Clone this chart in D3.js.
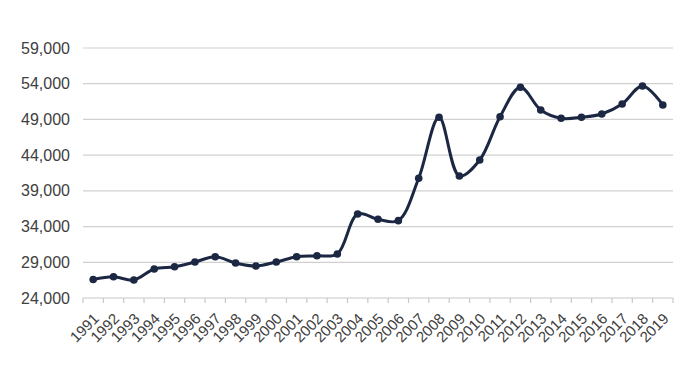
<!DOCTYPE html>
<html>
<head>
<meta charset="utf-8">
<script src="https://cdn.jsdelivr.net/npm/d3@7"></script>
<style>
  body { margin: 0; background: #fff; }
  text { font-family: "Liberation Sans", Arial, sans-serif; fill: #404040; }
</style>
</head>
<body>
<svg class="chart"></svg>
<script>
// Total dimensions
var w = 700,
    h = 385;

// Data
var years = ["1991", "1992", "1993", "1994", "1995", "1996", "1997", "1998", "1999", "2000",
             "2001", "2002", "2003", "2004", "2005", "2006", "2007", "2008", "2009", "2010",
             "2011", "2012", "2013", "2014", "2015", "2016", "2017", "2018", "2019"];
var values = [26600, 26980, 26520, 28060, 28380, 29040, 29780, 28900, 28480, 29040,
              29780, 29920, 30160, 35760, 35020, 34830, 40760, 49300, 41080, 43320,
              49380, 53500, 50320, 49160, 49300, 49760, 51160, 53680, 51020];
var yTicks = [24000, 29000, 34000, 39000, 44000, 49000, 54000, 59000];

var svg = d3.select(".chart")
    .attr("width", w)
    .attr("height", h);

// plot area
var plotLeft = 83, plotRight = 673, plotTop = 48, plotBottom = 298;

var xScale = d3.scaleBand()
    .domain(years)
    .range([plotLeft, plotRight]);

var yScale = d3.scaleLinear()
    .domain([24000, 59000])
    .range([plotBottom, plotTop]);

var fmt = d3.format(",");

// gridlines
svg.append("g")
    .selectAll("line")
    .data(yTicks.slice(1))
    .enter().append("line")
    .attr("x1", plotLeft)
    .attr("x2", plotRight)
    .attr("y1", function(d) { return yScale(d); })
    .attr("y2", function(d) { return yScale(d); })
    .attr("stroke", "#d0d0d0")
    .attr("stroke-width", 1.2);

// y labels
svg.append("g")
    .selectAll("text")
    .data(yTicks)
    .enter().append("text")
    .attr("x", 70)
    .attr("y", function(d) { return yScale(d); })
    .attr("dy", "0.35em")
    .attr("text-anchor", "end")
    .attr("font-size", "16px")
    .text(function(d) { return fmt(d); });

// x axis line and ticks at category boundaries
svg.append("line")
    .attr("x1", plotLeft)
    .attr("x2", plotRight)
    .attr("y1", plotBottom)
    .attr("y2", plotBottom)
    .attr("stroke", "#c8c8c8")
    .attr("stroke-width", 1.2);

var bounds = years.map(function(d) { return xScale(d); }).concat([plotRight]);
svg.append("g")
    .selectAll("line")
    .data(bounds)
    .enter().append("line")
    .attr("x1", function(d) { return d; })
    .attr("x2", function(d) { return d; })
    .attr("y1", plotBottom)
    .attr("y2", plotBottom + 5)
    .attr("stroke", "#c8c8c8")
    .attr("stroke-width", 1.2);

// x labels
var cx = function(d) { return xScale(d) + xScale.bandwidth() / 2; };
svg.append("g")
    .selectAll("text")
    .data(years)
    .enter().append("text")
    .attr("transform", function(d) { return "translate(" + (cx(d) + 3) + "," + (plotBottom + 18) + ") rotate(-45)"; })
    .attr("text-anchor", "end")
    .attr("dy", "0.35em")
    .attr("font-size", "15px")
    .attr("fill", "#333")
    .text(function(d) { return d; });

// smoothed line
var line = d3.line()
    .x(function(d, i) { return cx(years[i]); })
    .y(function(d) { return yScale(d); })
    .curve(d3.curveCatmullRom.alpha(0.5));

svg.append("path")
    .datum(values)
    .attr("fill", "none")
    .attr("stroke", "#1b2743")
    .attr("stroke-width", 3)
    .attr("stroke-linejoin", "round")
    .attr("d", line);

svg.append("g")
    .selectAll("circle")
    .data(values)
    .enter().append("circle")
    .attr("cx", function(d, i) { return cx(years[i]); })
    .attr("cy", function(d) { return yScale(d); })
    .attr("r", 3.8)
    .attr("fill", "#1b2743");
</script>
</body>
</html>
